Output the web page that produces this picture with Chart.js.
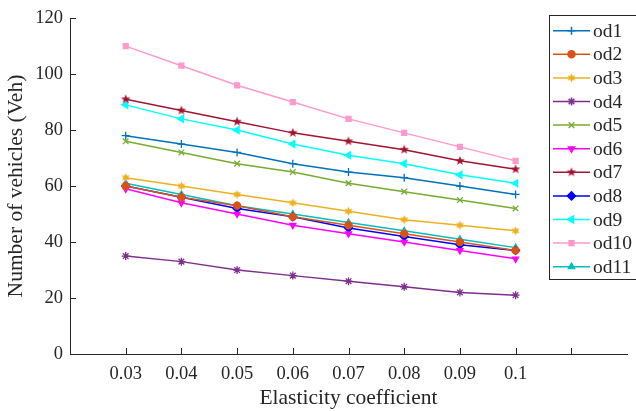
<!DOCTYPE html>
<html>
<head>
<meta charset="utf-8">
<script src="https://cdn.jsdelivr.net/npm/chart.js@4"></script>
<style>
  html, body { margin: 0; padding: 0; background: #fff; }
  #wrap { width: 636px; height: 411px; }
</style>
</head>
<body>
<div id="wrap"><canvas id="myChart" width="636" height="411"></canvas></div>
<script>
// data
var xValues = [0.03, 0.04, 0.05, 0.06, 0.07, 0.08, 0.09, 0.1];
var xTickLabels = ['0.03', '0.04', '0.05', '0.06', '0.07', '0.08', '0.09', '0.1'];
var yTicks = [0, 20, 40, 60, 80, 100, 120];
var seriesNames = ['od1', 'od2', 'od3', 'od4', 'od5', 'od6', 'od7', 'od8', 'od9', 'od10', 'od11'];

var od1 = [78, 75, 72, 68, 65, 63, 60, 57];
var od2 = [60, 56, 53, 49, 46, 43, 40, 37];
var od3 = [63, 60, 57, 54, 51, 48, 46, 44];
var od4 = [35, 33, 30, 28, 26, 24, 22, 21];
var od5 = [76, 72, 68, 65, 61, 58, 55, 52];
var od6 = [59, 54, 50, 46, 43, 40, 37, 34];
var od7 = [91, 87, 83, 79, 76, 73, 69, 66];
var od8 = [60, 56, 52, 49, 45, 42, 39, 37];
var od9 = [89, 84, 80, 75, 71, 68, 64, 61];
var od10 = [110, 103, 96, 90, 84, 79, 74, 69];
var od11 = [61, 57, 53, 50, 47, 44, 41, 38];
var seriesValues = [od1, od2, od3, od4, od5, od6, od7, od8, od9, od10, od11];

var colors = ['#0072BD', '#D95319', '#EDB120', '#7E2F8E', '#77AC30', '#FF00FF',
              '#A2142F', '#0000FF', '#00FFFF', '#FF99CC', '#00BFBF'];

var FONT = 'Liberation Serif, Times New Roman, serif';
var TEXT = '#262626';

// filled star marker (pentagram / hexagram)
function starCanvas(points, outerR, innerR, color) {
  var size = Math.ceil(outerR * 2 + 2);
  var c = document.createElement('canvas');
  c.width = size; c.height = size;
  var g = c.getContext('2d');
  g.beginPath();
  for (var i = 0; i < points * 2; i++) {
    var r = (i % 2) ? innerR : outerR;
    var a = -Math.PI / 2 + i * Math.PI / points;
    var px = size / 2 + r * Math.cos(a), py = size / 2 + r * Math.sin(a);
    if (i == 0) g.moveTo(px, py); else g.lineTo(px, py);
  }
  g.closePath();
  g.fillStyle = color;
  g.fill();
  return c;
}

var markers = [
  {style: 'cross', radius: 4, rot: 0},
  {style: 'circle', radius: 3.5, rot: 0},
  {style: starCanvas(6, 4.5, 2.4, colors[2]), radius: 4, rot: 0},
  {style: 'star', radius: 4, rot: 0},
  {style: 'crossRot', radius: 4, rot: 0},
  {style: 'triangle', radius: 3.5, rot: 180},
  {style: starCanvas(5, 5, 2.1, colors[6]), radius: 4, rot: 0},
  {style: 'rectRot', radius: 4, rot: 0},
  {style: 'triangle', radius: 4, rot: 270},
  {style: 'rect', radius: 3.5, rot: 0},
  {style: 'triangle', radius: 3.5, rot: 0}
];

var datasets = seriesNames.map(function(name, i) {
  return {
    label: name,
    data: xValues.map(function(x, j) { return {x: x, y: seriesValues[i][j]}; }),
    borderColor: colors[i],
    backgroundColor: colors[i],
    borderWidth: 1.5,
    pointStyle: markers[i].style,
    pointRadius: markers[i].radius,
    pointRotation: markers[i].rot,
    pointBorderWidth: 1.3,
    tension: 0
  };
});

// MATLAB style ticks pointing into the plot
var innerTicks = {
  id: 'innerTicks',
  beforeDatasetsDraw: function(chart) {
    var ctx = chart.ctx, xs = chart.scales.x, ys = chart.scales.y, a = chart.chartArea;
    ctx.save();
    ctx.strokeStyle = TEXT;
    ctx.lineWidth = 1;
    ctx.beginPath();
    for (var v = 3; v <= 11; v++) {
      var px = Math.round(xs.getPixelForValue(v / 100)) + 0.5;
      ctx.moveTo(px, a.bottom);
      ctx.lineTo(px, a.bottom - 6);
    }
    yTicks.forEach(function(t) {
      var py = Math.round(ys.getPixelForValue(t)) + 0.5;
      ctx.moveTo(a.left, py);
      ctx.lineTo(a.left + 6, py);
    });
    ctx.stroke();
    ctx.restore();
  }
};

// boxed legend in the upper right corner
var boxLegend = {
  id: 'boxLegend',
  afterDraw: function(chart) {
    var ctx = chart.ctx;
    var bx = 549, by = 15, bh = 264;
    ctx.save();
    ctx.fillStyle = '#fff';
    ctx.fillRect(bx, by, 100, bh);
    ctx.strokeStyle = TEXT;
    ctx.lineWidth = 1;
    ctx.strokeRect(bx + 0.5, by + 0.5, 100, bh);
    chart.data.datasets.forEach(function(ds, i) {
      var y = 30.7 + i * 23.6;
      ctx.strokeStyle = ds.borderColor;
      ctx.lineWidth = 1.5;
      ctx.beginPath();
      ctx.moveTo(553, y);
      ctx.lineTo(590, y);
      ctx.stroke();
      ctx.fillStyle = ds.backgroundColor;
      Chart.helpers.drawPoint(ctx, {
        pointStyle: ds.pointStyle, radius: ds.pointRadius,
        rotation: ds.pointRotation, borderWidth: 1.3
      }, 571.5, y);
      ctx.fillStyle = TEXT;
      ctx.font = '19.5px ' + FONT;
      ctx.textBaseline = 'middle';
      ctx.textAlign = 'left';
      ctx.fillText(ds.label, 593, y + 1);
    });
    ctx.restore();
  }
};

var ctx = document.getElementById('myChart').getContext('2d');
var myChart = new Chart(ctx, {
  type: 'line',
  data: { datasets: datasets },
  plugins: [innerTicks, boxLegend],
  options: {
    responsive: false,
    animation: false,
    devicePixelRatio: 1,
    layout: { padding: { top: 11, right: 0, left: 0, bottom: 0 } },
    plugins: {
      legend: { display: false },
      tooltip: { enabled: false }
    },
    scales: {
      x: {
        type: 'linear',
        min: 0.02,
        max: 0.12,
        afterFit: function(scale) { scale.height = 57; },
        grid: { display: true, drawOnChartArea: false, drawTicks: false },
        border: { display: true, color: TEXT, width: 1 },
        ticks: {
          stepSize: 0.01,
          autoSkip: false,
          maxRotation: 0,
          padding: 9,
          color: TEXT,
          font: { family: FONT, size: 18.5 },
          callback: function(value) {
            var k = xValues.indexOf(Math.round(value * 100) / 100);
            return k >= 0 ? xTickLabels[k] : '';
          }
        },
        title: {
          display: true,
          text: 'Elasticity coefficient',
          color: TEXT,
          font: { family: FONT, size: 21.5 },
          padding: { top: 0, bottom: 0 }
        }
      },
      y: {
        min: 0,
        max: 120,
        afterFit: function(scale) { scale.width = 70; },
        grid: { display: true, drawOnChartArea: false, drawTicks: false },
        border: { display: true, color: TEXT, width: 1 },
        ticks: {
          stepSize: 20,
          padding: 7,
          color: TEXT,
          font: { family: FONT, size: 18.5 }
        },
        title: {
          display: true,
          text: 'Number of vehicles (Veh)',
          color: TEXT,
          font: { family: FONT, size: 21.5 },
          padding: { top: 3, bottom: 0 }
        }
      }
    }
  }
});
</script>
</body>
</html>
